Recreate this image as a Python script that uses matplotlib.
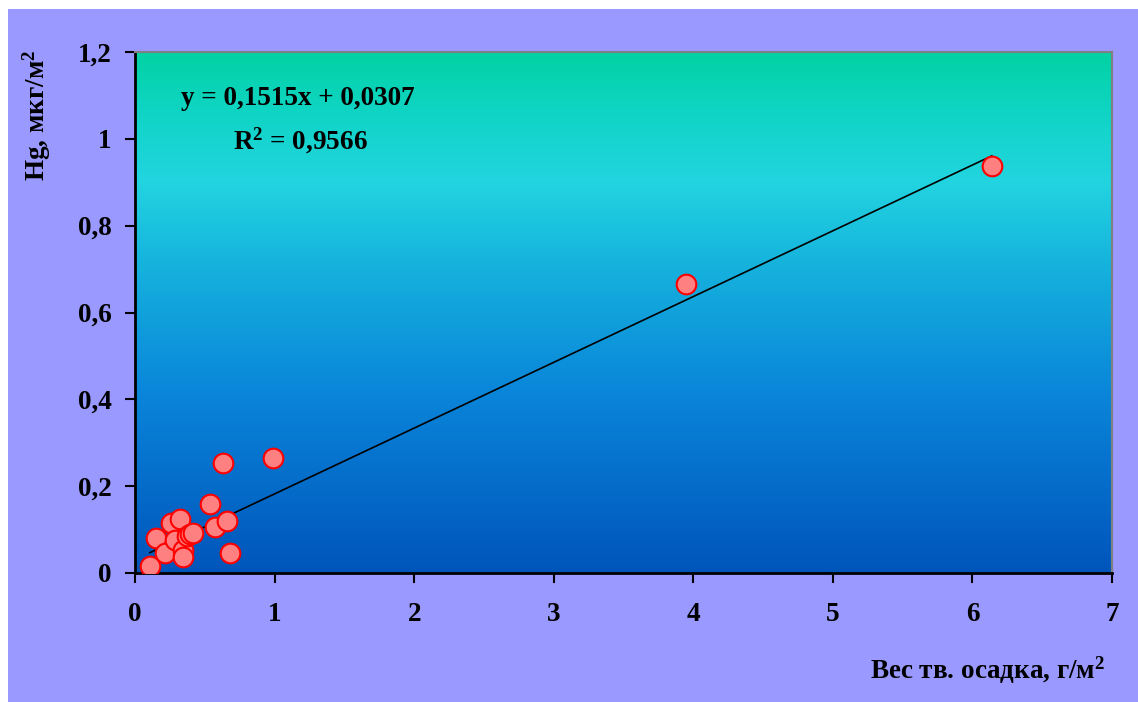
import matplotlib.pyplot as plt
import numpy as np
from matplotlib.colors import LinearSegmentedColormap
from matplotlib.patches import Rectangle

plt.rcParams['font.family'] = ['Liberation Serif', 'DejaVu Serif']
plt.rcParams['font.weight'] = 'bold'
plt.rcParams['mathtext.default'] = 'regular'

# data
ves = [0.107, 0.150, 0.215, 0.256, 0.287, 0.322, 0.346, 0.346, 0.370, 0.394,
       0.418, 0.537, 0.573, 0.633, 0.657, 0.680, 0.991, 3.947, 6.139]
hg = [0.015, 0.080, 0.047, 0.116, 0.076, 0.124, 0.053, 0.036, 0.085, 0.090,
      0.093, 0.159, 0.107, 0.253, 0.120, 0.045, 0.264, 0.666, 0.938]
slope = 0.1515
intercept = 0.0307
r2 = 0.9566
x_ticks = [0, 1, 2, 3, 4, 5, 6, 7]
y_ticks = [0, 0.2, 0.4, 0.6, 0.8, 1.0, 1.2]
y_tick_labels = ['0', '0,2', '0,4', '0,6', '0,8', '1', '1,2']

fig = plt.figure(figsize=(11.38, 7.02), dpi=100)
fig.patch.set_facecolor('white')
fig.patches.append(Rectangle((8 / 1138, 0), 1, (702 - 9) / 702, transform=fig.transFigure,
                             facecolor='#9999FF', edgecolor='none', zorder=-10))

ax = fig.add_axes([135 / 1138, (702 - 573) / 702, (1112 - 135) / 1138, (573 - 52) / 702])

# gradient background of plot area
grad_cmap = LinearSegmentedColormap.from_list('bg', [
    (0.0, '#0055BB'),
    (0.35, '#0A86DA'),
    (0.6, '#16B4DD'),
    (0.75, '#22D4E0'),
    (0.88, '#10D5C6'),
    (1.0, '#02D2A4'),
])
grad = np.linspace(0, 1, 256).reshape(-1, 1)
ax.imshow(grad, extent=[0, 7, 0, 1.2], origin='lower', aspect='auto', cmap=grad_cmap, zorder=0)

# trend line
xl = np.array([min(ves), max(ves)])
ax.plot(xl, slope * xl + intercept, color='black', lw=1.2, zorder=2)

ax.scatter(ves, hg, s=200, facecolor='#FF8080', edgecolor='#FF0000', linewidth=1.5, zorder=3)

ax.set_xlim(0, 7)
ax.set_ylim(0, 1.2)
ax.set_xticks(x_ticks)
ax.set_xticklabels([str(t) for t in x_ticks])
ax.set_yticks(y_ticks)
ax.set_yticklabels(y_tick_labels)
ax.tick_params(axis='both', direction='out', length=7, width=1.5, labelsize=19.5, colors='black')
ax.tick_params(axis='x', pad=14)
ax.tick_params(axis='y', pad=10)

for s in ['left', 'bottom']:
    ax.spines[s].set_linewidth(2)
    ax.spines[s].set_color('black')
for s in ['top', 'right']:
    ax.spines[s].set_linewidth(1.5)
    ax.spines[s].set_color('#808080')

ax.text(0.167, 0.91, 'y = 0,1515x + 0,0307', transform=ax.transAxes, ha='center', va='center',
        fontsize=19.5, fontweight='bold')
ax.text(0.169, 0.83, 'R$^2$ = ' + f'{r2}'.replace('.', ','), transform=ax.transAxes,
        ha='center', va='center', fontsize=19.5, fontweight='bold')

fig.text(1105 / 1138, 1 - 670 / 702, 'Вес тв. осадка, г/м$^2$', ha='right', va='center',
         fontsize=19.5, fontweight='bold')
fig.text(37 / 1138, 1 - 115 / 702, 'Hg, мкг/м$^2$', ha='center', va='center', rotation=90,
         fontsize=19.5, fontweight='bold')

fig.savefig('out.png', dpi=100)
